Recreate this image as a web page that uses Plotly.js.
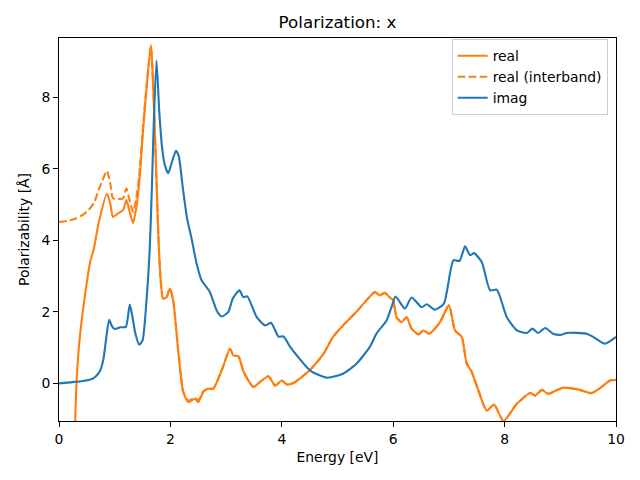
<!DOCTYPE html>
<html>
<head>
<meta charset="utf-8">
<script src="https://cdn.plot.ly/plotly-3.0.1.min.js"></script>
<style>html,body{margin:0;padding:0;background:#fff;}</style>
</head>
<body>
<div id="chart" style="width:640px;height:480px;"></div>
<script>
// ---- data ----
const realE = [0.29,0.32,0.38,0.47,0.56,0.62,0.71,0.86,0.92,0.97,1.06,1.15,1.21,1.27,1.33,1.39,1.44,1.51,1.58,1.65,1.68,1.72,1.78,1.81,1.87,1.93,1.99,2.05,2.14,2.23,2.32,2.44,2.50,2.59,2.68,2.77,2.92,3.07,3.13,3.22,3.31,3.40,3.49,3.61,3.76,3.88,4.00,4.09,4.21,4.36,4.51,4.75,4.92,5.13,5.34,5.52,5.67,5.76,5.85,5.94,6.00,6.06,6.15,6.24,6.33,6.45,6.54,6.65,6.84,7.00,7.11,7.23,7.32,7.41,7.53,7.68,7.81,7.98,8.22,8.46,8.55,8.67,8.78,9.05,9.35,9.56,9.74,9.89,10.0];
const realV = [-1.1,0.18,1.39,2.50,3.40,3.72,4.47,5.30,5.03,4.65,4.75,4.84,5.12,4.79,4.48,4.93,5.60,7.08,8.40,9.45,8.70,7.10,4.30,3.25,2.37,2.41,2.65,2.32,0.92,-0.24,-0.52,-0.43,-0.52,-0.24,-0.15,-0.15,0.36,0.97,0.78,0.76,0.34,0.08,-0.10,0.04,0.20,-0.06,0.08,-0.03,0.01,0.18,0.38,0.83,1.30,1.67,2.00,2.32,2.55,2.46,2.53,2.40,2.32,1.85,1.71,1.85,1.53,1.37,1.48,1.39,1.71,2.18,1.48,1.30,0.55,0.32,-0.20,-0.76,-0.59,-1.05,-0.57,-0.27,-0.34,-0.18,-0.29,-0.12,-0.18,-0.27,-0.10,0.08,0.10];

const interE = [0.0,0.15,0.29,0.42,0.53,0.63,0.71,0.80,0.86,0.92,0.97,1.06,1.15,1.21,1.27,1.33,1.39,1.44,1.51,1.58,1.65,1.68,1.72,1.78,1.81,1.87,1.93,1.99,2.05,2.14,2.23,2.32,2.44,2.50,2.59,2.68,2.77,2.92,3.07,3.13,3.22,3.31,3.40,3.49,3.61,3.76,3.88,4.00,4.09,4.21,4.36,4.51,4.75,4.92,5.13,5.34,5.52,5.67,5.76,5.85,5.94,6.00,6.06,6.15,6.24,6.33,6.45,6.54,6.65,6.84,7.00,7.11,7.23,7.32,7.41,7.53,7.68,7.81,7.98,8.22,8.46,8.55,8.67,8.78,9.05,9.35,9.56,9.74,9.89,10.0];
const interV = [4.51,4.54,4.60,4.70,4.84,5.05,5.40,5.75,5.94,5.59,5.17,5.15,5.17,5.45,5.10,4.79,5.20,5.80,7.20,8.45,9.40,8.70,7.10,4.30,3.25,2.37,2.41,2.65,2.32,0.92,-0.22,-0.48,-0.40,-0.48,-0.22,-0.14,-0.14,0.36,0.97,0.78,0.76,0.34,0.08,-0.10,0.04,0.20,-0.06,0.08,-0.03,0.01,0.18,0.38,0.83,1.30,1.67,2.00,2.32,2.55,2.46,2.53,2.40,2.32,1.85,1.71,1.85,1.53,1.37,1.48,1.39,1.71,2.18,1.48,1.30,0.55,0.32,-0.20,-0.76,-0.59,-1.05,-0.57,-0.27,-0.34,-0.18,-0.29,-0.12,-0.18,-0.27,-0.10,0.08,0.10];

const imagE = [0.0,0.20,0.40,0.55,0.65,0.74,0.80,0.85,0.90,0.95,1.00,1.10,1.20,1.27,1.32,1.37,1.44,1.50,1.57,1.63,1.67,1.70,1.75,1.80,1.85,1.90,1.96,2.03,2.10,2.15,2.22,2.30,2.38,2.47,2.56,2.71,2.83,2.92,3.04,3.12,3.24,3.31,3.38,3.55,3.70,3.81,3.94,4.03,4.15,4.27,4.51,4.81,5.10,5.34,5.58,5.70,5.88,5.97,6.04,6.21,6.33,6.51,6.60,6.75,6.91,7.08,7.19,7.29,7.38,7.45,7.59,7.74,7.86,8.04,8.22,8.40,8.50,8.60,8.73,8.87,9.02,9.11,9.47,9.59,9.80,10.0];
const imagV = [0.0,0.03,0.06,0.10,0.18,0.36,0.70,1.30,1.78,1.60,1.52,1.57,1.58,2.20,1.85,1.40,1.08,1.20,2.30,3.80,5.60,7.20,9.02,7.60,6.60,6.10,5.87,6.20,6.50,6.35,5.50,4.60,4.05,3.35,2.88,2.55,2.04,1.87,2.00,2.37,2.60,2.41,2.43,1.85,1.62,1.69,1.31,1.31,1.02,0.78,0.36,0.16,0.27,0.55,1.02,1.39,1.76,2.13,2.43,2.09,2.40,2.13,2.21,2.06,2.23,3.44,3.42,3.83,3.58,3.64,3.39,2.60,2.62,1.85,1.48,1.41,1.53,1.41,1.55,1.39,1.36,1.41,1.39,1.30,1.11,1.30];

const xTicks = [0,2,4,6,8,10];
const yTicks = [0,2,4,6,8];

const ORANGE = '#ff7f0e', BLUE = '#1f77b4';
const FONT = 'DejaVu Sans, sans-serif';

const traces = [
  {x: realE, y: realV, name: 'real', mode: 'lines', line: {color: ORANGE, width: 2.1, shape: 'spline', smoothing: 0.6}},
  {x: interE, y: interV, name: 'real (interband)', mode: 'lines', line: {color: ORANGE, width: 2.1, dash: '7.7px,3.3px', shape: 'spline', smoothing: 0.6}},
  {x: imagE, y: imagV, name: 'imag', mode: 'lines', line: {color: BLUE, width: 2.1, shape: 'spline', smoothing: 0.6}}
];

const axisCommon = {
  showgrid: false, zeroline: false, showline: true, mirror: true,
  linecolor: '#000', linewidth: 1, ticks: 'outside', ticklen: 4.9, tickwidth: 1,
  tickcolor: '#000', tickfont: {family: FONT, size: 13.9, color: '#000'}
};

const layout = {
  width: 640, height: 480,
  margin: {l: 59, r: 24, t: 38, b: 59},
  paper_bgcolor: '#fff', plot_bgcolor: '#fff',
  font: {family: FONT, color: '#000'},
  title: {text: 'Polarization: x', font: {family: FONT, size: 16.7, color: '#000'},
          x: 0.5, xref: 'paper', xanchor: 'center', y: 1 - 22/480, yref: 'container', yanchor: 'middle'},
  xaxis: Object.assign({}, axisCommon, {range: [0, 10], tickvals: xTicks, ticktext: xTicks.map(String),
    title: {text: 'Energy [eV]', font: {family: FONT, size: 13.9, color: '#000'}, standoff: 6}}),
  yaxis: Object.assign({}, axisCommon, {range: [-1.05, 9.65], tickvals: yTicks, ticktext: yTicks.map(String),
    title: {text: 'Polarizability [Å]', font: {family: FONT, size: 13.9, color: '#000'}, standoff: 8}}),
  showlegend: true,
  legend: {x: 0.985, y: 0.997, xanchor: 'right', yanchor: 'top', bgcolor: 'rgba(255,255,255,0.8)',
           bordercolor: '#cccccc', borderwidth: 1, font: {family: FONT, size: 13.9, color: '#000'},
           tracegroupgap: 0, itemwidth: 30}
};

Plotly.newPlot('chart', traces, layout, {staticPlot: true, displayModeBar: false});
</script>
</body>
</html>
